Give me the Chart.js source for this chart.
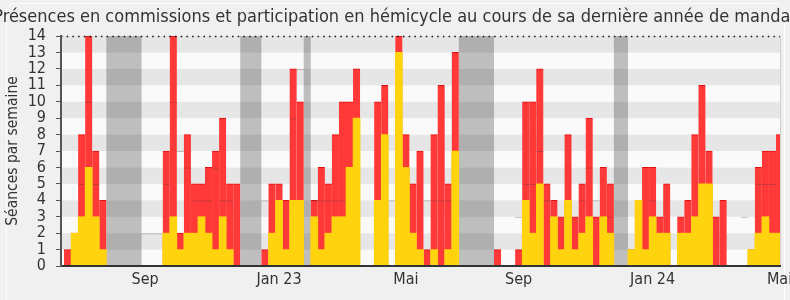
<!DOCTYPE html>
<html>
<head>
<meta charset="utf-8">
<script src="https://cdn.jsdelivr.net/npm/chart.js@4/dist/chart.umd.min.js"></script>
<style>
html, body { margin: 0; padding: 0; background: #f0f0f0; overflow: hidden; }
#frame { position: absolute; left: 6px; top: 3px; width: 779px; height: 320px; border: 1px solid #fcfcfc; border-radius: 8px; box-sizing: border-box; }
canvas { position: absolute; left: 0; top: 0; }
</style>
</head>
<body>
<div id="frame"></div>
<canvas id="chartCanvas" width="790" height="300"></canvas>
<script>
// one value per week, 102 weeks (Jun 2022 -> May 2024)
const hemicycle = [
  1, 2, 8, 14, 7, 4, 0, 0, 0, 0,
  0, 0, 0, 0, 7, 14, 2, 8, 5, 5,
  6, 7, 9, 5, 5, 0, 0, 0, 1, 5,
  5, 4, 12, 10, 0, 4, 6, 5, 8, 10,
  10, 12, 0, 0, 10, 11, 0, 14, 8, 5,
  7, 1, 8, 11, 5, 13, 0, 0, 0, 0,
  0, 1, 0, 0, 1, 10, 10, 12, 5, 4,
  3, 8, 3, 5, 9, 3, 6, 5, 0, 0,
  1, 4, 6, 6, 3, 5, 0, 3, 4, 8,
  11, 7, 3, 4, 0, 0, 0, 1, 6, 7,
  7, 8
];
const commission = [
  0, 2, 3, 6, 3, 1, 0, 0, 0, 0,
  0, 0, 0, 0, 2, 3, 1, 2, 2, 3,
  2, 1, 3, 1, 0, 0, 0, 0, 0, 2,
  4, 1, 4, 4, 0, 3, 1, 2, 3, 3,
  6, 9, 0, 0, 4, 8, 0, 13, 6, 2,
  1, 0, 1, 0, 1, 7, 0, 0, 0, 0,
  0, 0, 0, 0, 0, 4, 2, 5, 0, 3,
  1, 4, 1, 2, 3, 0, 3, 2, 0, 0,
  1, 4, 1, 3, 2, 2, 0, 2, 2, 3,
  5, 5, 0, 0, 0, 0, 0, 1, 2, 3,
  2, 2
];
// median activity, only where it can be seen
const mediane = [
  null, null, 5, 10, 5, null, null, null, null, null,
  null, 2, 2, 2, 5, 10, 7, 6, 4, 4,
  4, 6, 4, 4, null, null, null, null, 4, null,
  null, null, 9, 12, null, 4, 4, 4, 4, 4,
  null, null, null, null, null, null, 4, null, null, null,
  null, 4, 4, 4, 4, null, null, null, null, null,
  null, null, null, null, 3, 5, 5, 7, 4, null,
  null, null, null, 4, 6, 4, null, 3, null, null,
  null, null, null, 4, null, null, null, null, null, null,
  null, null, null, null, null, null, 3, null, 5, 5,
  5, null
];
const vacances = [7, 8, 9, 10, 11, 26, 27, 28, 35, 57, 58, 59, 60, 61, 79, 80];
const tickWeeks = [11, 30, 48, 64, 83, 101];
const tickLabels = ['Sep', 'Jan 23', 'Mai', 'Sep', 'Jan 24', 'Mai'];
const titre = 'Présences en commissions et participation en hémicycle au cours de sa dernière année de mandat';

const FONT = "'DejaVu Sans Condensed', 'DejaVu Sans', sans-serif";
const nWeeks = hemicycle.length;

const toPoints = arr => arr.map((v, i) => ({ x: i, y: v }));

// group vacation weeks into contiguous runs [first, last] (0-based)
const vacRuns = [];
vacances.forEach(w => {
  const i = w - 1;
  const last = vacRuns[vacRuns.length - 1];
  if (last && last[1] === i - 1) last[1] = i; else vacRuns.push([i, i]);
});

const background = {
  id: 'background',
  beforeDatasetsDraw(chart) {
    const { ctx, chartArea: a, scales: { x, y } } = chart;
    ctx.save();
    for (let k = 0; k < 14; k++) {
      const top = y.getPixelForValue(k + 1);
      const bot = y.getPixelForValue(k);
      ctx.fillStyle = k % 2 ? '#e6e6e6' : '#fafafa';
      ctx.fillRect(a.left, top, a.right - a.left, bot - top);
    }
    // vacation weeks
    ctx.fillStyle = 'rgba(0, 0, 0, 0.24)';
    vacRuns.forEach(([s, e]) => {
      const x0 = x.getPixelForValue(s - 0.5);
      const x1 = x.getPixelForValue(e + 0.5);
      ctx.fillRect(x0, a.top, x1 - x0, a.bottom - a.top);
    });
    ctx.restore();
  },
  afterDatasetsDraw(chart) {
    const { ctx, chartArea: a } = chart;
    ctx.save();
    // dotted top line
    ctx.strokeStyle = '#111';
    ctx.lineWidth = 1.5;
    ctx.setLineDash([1.5, 4.2]);
    ctx.beginPath();
    ctx.moveTo(a.left, a.top + 0.5);
    ctx.lineTo(a.right, a.top + 0.5);
    ctx.stroke();
    // light right edge
    ctx.setLineDash([]);
    ctx.strokeStyle = '#d0d0d0';
    ctx.lineWidth = 1;
    ctx.beginPath();
    ctx.moveTo(a.right + 0.5, a.top);
    ctx.lineTo(a.right + 0.5, a.bottom);
    ctx.stroke();
    ctx.restore();
  },
  afterDraw(chart) {
    // title wider than the canvas, left to overflow both sides
    const { ctx } = chart;
    ctx.save();
    ctx.font = '18px ' + FONT;
    ctx.fillStyle = '#333';
    ctx.textAlign = 'center';
    ctx.textBaseline = 'middle';
    ctx.fillText(titre, chart.width / 2, 17);
    ctx.restore();
  }
};

const ctx = document.getElementById('chartCanvas');
window.myChart = new Chart(ctx, {
  type: 'bar',
  data: {
    datasets: [
      {
        label: 'Présences en commission',
        data: toPoints(commission),
        backgroundColor: '#ffd30d',
        order: 0
      },
      {
        label: 'Médiane',
        data: toPoints(mediane),
        backgroundColor: 'rgba(255, 255, 255, 0)',
        borderColor: 'rgba(60, 60, 60, 0.35)',
        borderWidth: { top: 1, right: 0, bottom: 0, left: 0 },
        inflateAmount: 0,
        order: 1
      },
      {
        label: 'Participations en hémicycle',
        data: toPoints(hemicycle),
        backgroundColor: '#ff3838',
        borderColor: '#e01010',
        borderWidth: { top: 1, right: 0, bottom: 0, left: 0 },
        order: 2
      }
    ]
  },
  options: {
    responsive: false,
    animation: false,
    devicePixelRatio: 1,
    layout: { padding: { left: 0, right: 10, top: 36, bottom: 0 } },
    datasets: { bar: { grouped: false, barPercentage: 1, categoryPercentage: 1 } },
    plugins: {
      legend: { display: false },
      tooltip: { enabled: false },
      title: { display: false }
    },
    scales: {
      x: {
        type: 'linear',
        offset: false,
        bounds: 'data',
        min: -0.93,
        max: nWeeks - 0.93,
        grid: { drawOnChartArea: false, drawTicks: false, offset: false },
        border: { color: '#333', width: 2, z: 1 },
        ticks: {
          autoSkip: false,
          maxRotation: 0,
          color: '#333',
          padding: 4,
          font: { family: FONT, size: 16 },
          callback: (v, i) => tickLabels[i]
        },
        afterBuildTicks: s => { s.ticks = tickWeeks.map(v => ({ value: v })); },
        afterFit: s => { s.height = 34; s.paddingLeft = 0; s.paddingRight = 0; }
      },
      y: {
        min: 0,
        max: 14,
        grid: { drawOnChartArea: false, tickLength: 5, color: '#555' },
        border: { color: '#555', width: 2, z: 1 },
        ticks: {
          stepSize: 1,
          autoSkip: false,
          color: '#333',
          padding: 10,
          font: { family: FONT, size: 16 }
        },
        title: {
          display: true,
          text: 'Séances par semaine',
          color: '#333',
          font: { family: FONT, size: 15.5 },
          padding: { top: 3.5, bottom: 0 }
        },
        afterFit: s => { s.width = 61; s.paddingTop = 0; }
      }
    }
  },
  plugins: [background]
});
</script>
</body>
</html>
